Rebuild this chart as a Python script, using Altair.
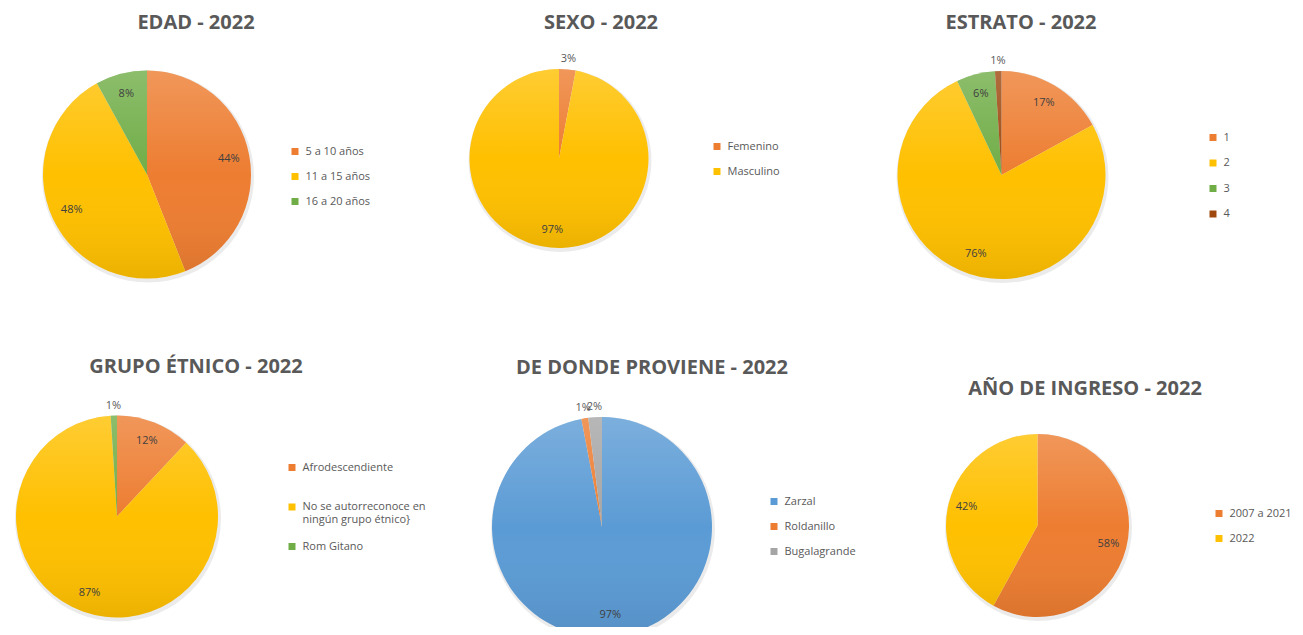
import altair as alt
import pandas as pd

FONT = "Open Sans"
ORANGE = "#ED7D31"
GOLD = "#FFC000"
GREEN = "#70AD47"
BROWN = "#9E480E"
BLUE = "#5B9BD5"
GRAY = "#A5A5A5"

# ---- data ----
titles = ["EDAD - 2022", "SEXO - 2022", "ESTRATO - 2022",
          "GRUPO ÉTNICO - 2022", "DE DONDE PROVIENE - 2022", "AÑO DE INGRESO - 2022"]

edad_cats = ["5 a 10 años", "11 a 15 años", "16 a 20 años"]
edad_vals = [44, 48, 8]

sexo_cats = ["Femenino", "Masculino"]
sexo_vals = [3, 97]

estrato_cats = ["1", "2", "3", "4"]
estrato_vals = [17, 76, 6, 1]

etnico_cats = ["Afrodescendiente", "No se autorreconoce en ningún grupo étnico}", "Rom Gitano"]
etnico_vals = [12, 87, 1]

proviene_cats = ["Zarzal", "Roldanillo", "Bugalagrande"]
proviene_vals = [97, 1, 2]

ingreso_cats = ["2007 a 2021", "2022"]
ingreso_vals = [58, 42]

# ---- layout (page pixels) ----
OFF = 8
layout = [
    dict(cx=147, cy=174.5, r=104, tx=196, ty=23, lx=293, ly=152, rp=13),
    dict(cx=559, cy=158.5, r=89.5, tx=601, ty=23, lx=715, ly=147, rp=13),
    dict(cx=1001.5, cy=175, r=104, tx=1021, ty=23, lx=1211, ly=138, rp=13.5),
    dict(cx=117, cy=516.5, r=101, tx=196, ty=367, lx=290, ly=468, rp=14.5),
    dict(cx=602, cy=527, r=110, tx=652, ty=368, lx=772, ly=502, rp=13),
    dict(cx=1037.5, cy=525.5, r=91.5, tx=1085, ty=389, lx=1217, ly=514, rp=13),
]

GLOSS = {
    "gradient": "linear", "x1": 0, "y1": 0, "x2": 0, "y2": 1,
    "stops": [
        {"offset": 0, "color": "rgba(255,255,255,0.2)"},
        {"offset": 0.5, "color": "rgba(255,255,255,0)"},
        {"offset": 1, "color": "rgba(0,0,0,0.08)"},
    ],
}

LABEL_EXPR = ("datum.label == 'No se autorreconoce en ningún grupo étnico}' ? "
              "['No se autorreconoce en', 'ningún grupo étnico}'] : "
              "datum.label == 'Afrodescendiente' ? ['Afrodescendiente', ''] : datum.label")


def pie(title, cats, vals, colors, p):
    df = pd.DataFrame({"cat": cats, "v": vals, "i": list(range(len(cats)))})
    cx, cy, r = p["cx"] - OFF, p["cy"] - OFF, p["r"]
    pos = dict(x=alt.value(cx), y=alt.value(cy))
    base = alt.Chart(df).transform_calculate(
        lab_in="datum.v >= 5 ? datum.v + '%' : ''",
        lab_out="datum.v < 5 ? datum.v + '%' : ''",
    )
    one = alt.Chart(pd.DataFrame({"a": [1]}))
    shadow = one.mark_arc(radius=r + 2, theta=0, theta2=6.2832,
                          fill="#000000", opacity=0.08).encode(
        x=alt.value(cx + 1), y=alt.value(cy + 2))
    arcs = base.mark_arc(radius=r).encode(
        theta=alt.Theta("v:Q", stack=True),
        order=alt.Order("i:Q"),
        color=alt.Color(
            "cat:N", sort=cats,
            scale=alt.Scale(domain=cats, range=colors),
            legend=alt.Legend(
                orient="none", legendX=p["lx"] - OFF - 3.5, legendY=p["ly"] - OFF - 6,
                title=None, symbolType="square", symbolSize=49, symbolStrokeWidth=0,
                labelFont=FONT, labelFontSize=11, labelColor="#595959",
                labelOffset=5, rowPadding=p["rp"], padding=0, labelLimit=260,
                labelExpr=LABEL_EXPR,
            ),
        ),
        **pos,
    )
    gloss = one.mark_arc(radius=r, theta=0, theta2=6.2832, fill=GLOSS).encode(**pos)
    tin = base.mark_text(radius=r * 0.8, font=FONT, fontSize=11, color="#404040").encode(
        theta=alt.Theta("v:Q", stack=True), order=alt.Order("i:Q"),
        text="lab_in:N", **pos)
    tout = base.mark_text(radius=r + 10, font=FONT, fontSize=11, color="#595959").encode(
        theta=alt.Theta("v:Q", stack=True), order=alt.Order("i:Q"),
        text="lab_out:N", **pos)
    ttl = alt.Chart(pd.DataFrame({"t": [title]})).mark_text(
        font=FONT, fontSize=20, fontWeight="bold", color="#595959",
        align="center", baseline="middle").encode(
        text="t:N", x=alt.value(p["tx"] - OFF), y=alt.value(p["ty"] - OFF))
    return alt.layer(shadow, arcs, gloss, tin, tout, ttl)


pies = [
    pie(titles[0], edad_cats, edad_vals, [ORANGE, GOLD, GREEN], layout[0]),
    pie(titles[1], sexo_cats, sexo_vals, [ORANGE, GOLD], layout[1]),
    pie(titles[2], estrato_cats, estrato_vals, [ORANGE, GOLD, GREEN, BROWN], layout[2]),
    pie(titles[3], etnico_cats, etnico_vals, [ORANGE, GOLD, GREEN], layout[3]),
    pie(titles[4], proviene_cats, proviene_vals, [BLUE, ORANGE, GRAY], layout[4]),
    pie(titles[5], ingreso_cats, ingreso_vals, [ORANGE, GOLD], layout[5]),
]

chart = alt.layer(*pies).resolve_scale(
    theta="independent", color="independent"
).properties(
    width=1287, height=619, padding=0,
    autosize=alt.AutoSizeParams(type="none"),
).configure(background="white").configure_view(strokeWidth=0)

chart.save("out.html", embed_options={"renderer": "svg", "actions": False})
